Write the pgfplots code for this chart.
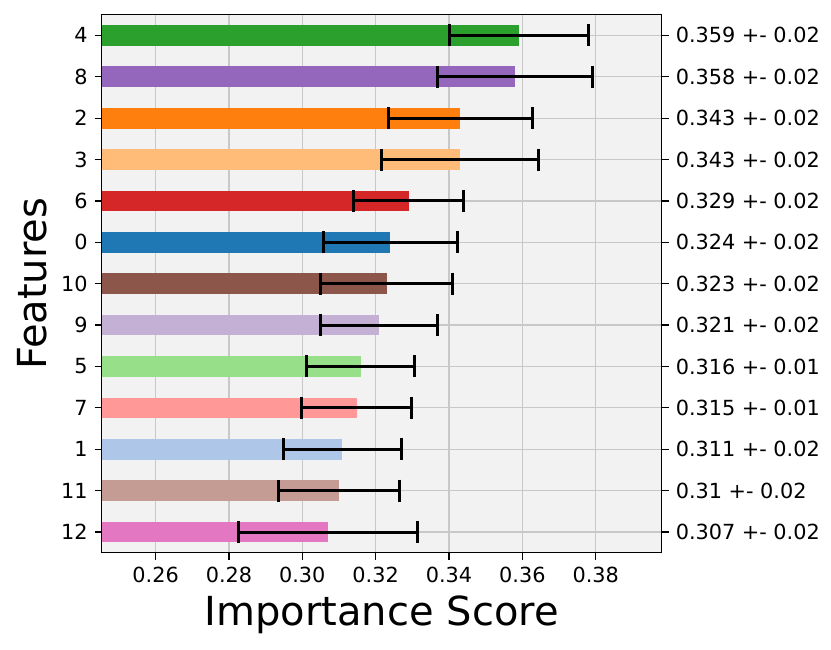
\documentclass[border=0pt]{standalone}
\usepackage{fontspec}
\setmainfont{DejaVu Sans}
\usepackage{pgfplots}
\pgfplotsset{compat=1.18}
\definecolor{c0}{HTML}{1F77B4}
\definecolor{c1}{HTML}{AEC7E8}
\definecolor{c2}{HTML}{FF7F0E}
\definecolor{c3}{HTML}{FFBB78}
\definecolor{c4}{HTML}{2CA02C}
\definecolor{c5}{HTML}{98DF8A}
\definecolor{c6}{HTML}{D62728}
\definecolor{c7}{HTML}{FF9896}
\definecolor{c8}{HTML}{9467BD}
\definecolor{c9}{HTML}{C5B0D5}
\definecolor{c10}{HTML}{8C564B}
\definecolor{c11}{HTML}{C49C94}
\definecolor{c12}{HTML}{E377C2}
\definecolor{bg}{HTML}{F2F2F2}
\definecolor{gridc}{HTML}{C8C8C8}
\begin{document}
\begin{tikzpicture}
\path[use as bounding box] (-50.85pt,-48.15pt) rectangle (364.65pt,276.35pt);
\pgfplotsset{
  myaxis/.style={
    scale only axis, width=280pt, height=269pt,
    at={(0,0)}, anchor=south west,
    xmin=0.2453, xmax=0.398, ymin=-0.5, ymax=12.5,
    tick align=outside,
    major tick length=3.5pt,
    tick style={black, line width=0.6pt},
    ticklabel style={font=\fontsize{10.4}{12}\selectfont},
    /pgf/number format/assume math mode=true,
  }
}
\begin{axis}[myaxis,
  axis background/.style={fill=bg},
  axis line style={line width=0.7pt},
  xtick={0.26,0.28,...,0.381},
  xticklabel style={/pgf/number format/.cd, fixed, fixed zerofill, precision=2},
  ytick={0,...,12},
  yticklabels={12,11,1,7,5,9,10,0,6,3,2,8,4},
  xtick pos=lower, ytick pos=left,
  grid=major, major grid style={gridc, line width=0.6pt},
  xlabel={Importance Score}, ylabel={Features},
  label style={font=\fontsize{20}{24}\selectfont},
  xbar, bar width=0.5, bar shift=0pt,
  every axis plot/.append style={draw=none},
  error bars/error bar style={black, line width=1.5pt},
  error bars/error mark options={black, line width=1.5pt, mark size=5.5pt, rotate=90},
]
\addplot+[fill=c12, error bars/.cd, x dir=both, x explicit] coordinates {(0.3069,0) +- (0.0244,0)};
\addplot+[fill=c11, error bars/.cd, x dir=both, x explicit] coordinates {(0.3100,1) +- (0.0165,0)};
\addplot+[fill=c1, error bars/.cd, x dir=both, x explicit] coordinates {(0.3109,2) +- (0.0161,0)};
\addplot+[fill=c7, error bars/.cd, x dir=both, x explicit] coordinates {(0.3149,3) +- (0.0150,0)};
\addplot+[fill=c5, error bars/.cd, x dir=both, x explicit] coordinates {(0.3159,4) +- (0.0148,0)};
\addplot+[fill=c9, error bars/.cd, x dir=both, x explicit] coordinates {(0.3210,5) +- (0.0160,0)};
\addplot+[fill=c10, error bars/.cd, x dir=both, x explicit] coordinates {(0.3230,6) +- (0.0180,0)};
\addplot+[fill=c0, error bars/.cd, x dir=both, x explicit] coordinates {(0.3240,7) +- (0.0183,0)};
\addplot+[fill=c6, error bars/.cd, x dir=both, x explicit] coordinates {(0.3290,8) +- (0.0150,0)};
\addplot+[fill=c3, error bars/.cd, x dir=both, x explicit] coordinates {(0.3431,9) +- (0.0214,0)};
\addplot+[fill=c2, error bars/.cd, x dir=both, x explicit] coordinates {(0.3431,10) +- (0.0197,0)};
\addplot+[fill=c8, error bars/.cd, x dir=both, x explicit] coordinates {(0.3581,11) +- (0.0211,0)};
\addplot+[fill=c4, error bars/.cd, x dir=both, x explicit] coordinates {(0.3591,12) +- (0.0189,0)};
\end{axis}
\begin{axis}[myaxis,
  axis y line*=right, axis x line=none,
  y axis line style={draw=none},
  ytick={0,...,12},
  yticklabels={0.307 +- 0.02,0.31 +- 0.02,0.311 +- 0.02,0.315 +- 0.01,0.316 +- 0.01,0.321 +- 0.02,0.323 +- 0.02,0.324 +- 0.02,0.329 +- 0.02,0.343 +- 0.02,0.343 +- 0.02,0.358 +- 0.02,0.359 +- 0.02},
]
\addplot[draw=none] coordinates {(0.3,0) (0.3,12)};
\end{axis}
\end{tikzpicture}
\end{document}
